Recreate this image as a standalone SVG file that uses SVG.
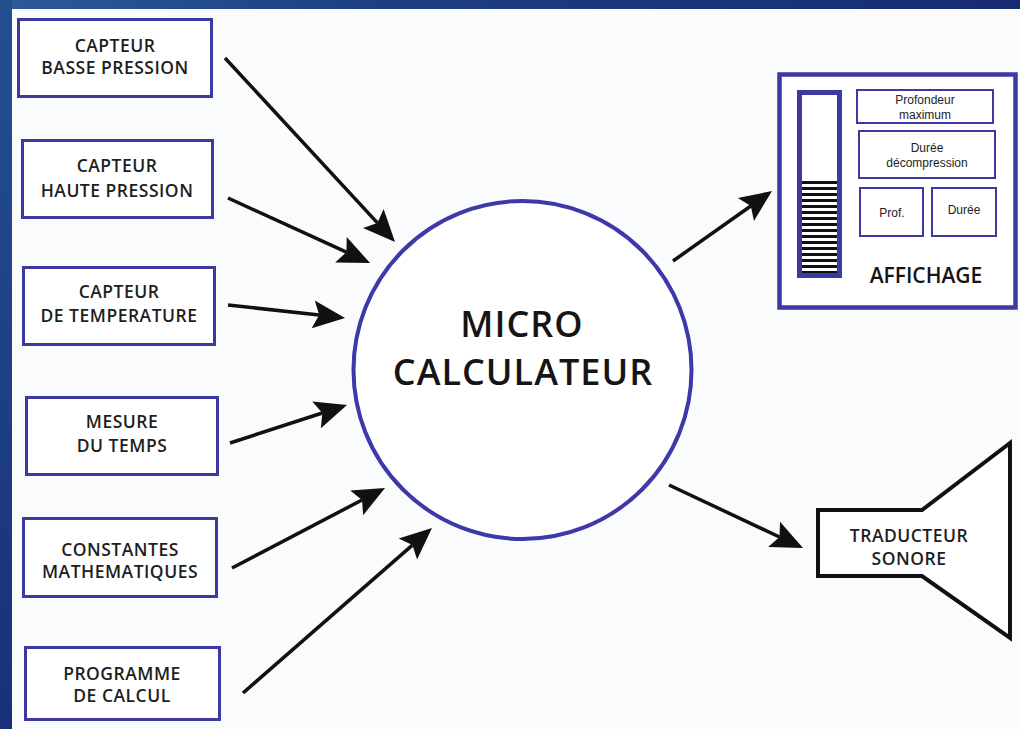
<svg xmlns="http://www.w3.org/2000/svg" width="1020" height="729" viewBox="0 0 1020 729">
<defs>
<linearGradient id="band" x1="0" y1="0" x2="1" y2="0">
<stop offset="0" stop-color="#2a5c96"/>
<stop offset="0.35" stop-color="#1d3f86"/>
<stop offset="1" stop-color="#172b72"/>
</linearGradient>
<linearGradient id="side" x1="0" y1="0" x2="0" y2="1">
<stop offset="0" stop-color="#24508f"/>
<stop offset="1" stop-color="#18307a"/>
</linearGradient>
<pattern id="stripes" x="0" y="181" width="10" height="6" patternUnits="userSpaceOnUse">
<rect x="0" y="0" width="10" height="3" fill="#111"/>
</pattern>
<marker id="ah" markerUnits="userSpaceOnUse" markerWidth="40" markerHeight="40" refX="0" refY="0" viewBox="-10 -20 40 40" orient="auto" overflow="visible">
<path d="M26,0 L-6,-14 L0,0 L-6,14 Z" fill="#111"/>
</marker>
<style>
.box{fill:#fff;stroke:#3d39a3;stroke-width:3}
.lbl{font-family:"Open Sans","Liberation Sans",sans-serif;font-weight:600;font-size:17.5px;letter-spacing:0.5px;fill:#1e1e1e;text-anchor:middle}
.big{font-family:"Open Sans","Liberation Sans",sans-serif;font-weight:600;font-size:36px;letter-spacing:1px;fill:#151515;text-anchor:middle}
.small{font-family:"Liberation Sans","Open Sans",sans-serif;font-weight:400;font-size:12px;fill:#222;text-anchor:middle}
.sub{fill:#fff;stroke:#3d39a3;stroke-width:2}
.arrow{stroke:#111;stroke-width:3.5;fill:none;marker-end:url(#ah)}
</style>
</defs>
<rect x="0" y="0" width="1020" height="729" fill="#fafbfd"/>
<rect x="0" y="0" width="1020" height="9" fill="url(#band)"/>
<rect x="0" y="0" width="12" height="729" fill="url(#side)"/>

<g id="capteur-basse-pression">
<rect class="box" x="18.5" y="19.5" width="193" height="77"/>
<text class="lbl" x="115" y="52">CAPTEUR</text>
<text class="lbl" x="115" y="74">BASSE PRESSION</text>
</g>
<g id="capteur-haute-pression">
<rect class="box" x="22.5" y="140.5" width="190" height="77"/>
<text class="lbl" x="117" y="172">CAPTEUR</text>
<text class="lbl" x="117" y="197">HAUTE PRESSION</text>
</g>
<g id="capteur-temperature">
<rect class="box" x="23.5" y="267.5" width="191" height="77"/>
<text class="lbl" x="119" y="298">CAPTEUR</text>
<text class="lbl" x="119" y="322">DE TEMPERATURE</text>
</g>
<g id="mesure-temps">
<rect class="box" x="26.5" y="397.5" width="191" height="77"/>
<text class="lbl" x="122" y="428">MESURE</text>
<text class="lbl" x="122" y="452">DU TEMPS</text>
</g>
<g id="constantes">
<rect class="box" x="23.5" y="518.5" width="193" height="78"/>
<text class="lbl" x="120" y="556">CONSTANTES</text>
<text class="lbl" x="120" y="578">MATHEMATIQUES</text>
</g>
<g id="programme">
<rect class="box" x="25.5" y="647.5" width="194" height="72"/>
<text class="lbl" x="122" y="680">PROGRAMME</text>
<text class="lbl" x="122" y="702">DE CALCUL</text>
</g>

<g id="micro-calculateur">
<circle cx="522.5" cy="370" r="169" fill="#fff" stroke="#3d39a8" stroke-width="4"/>
<text class="big" x="522" y="337">MICRO</text>
<text class="big" x="523" y="385">CALCULATEUR</text>
</g>

<g id="affichage">
<rect x="779.5" y="74.5" width="236" height="233" fill="#fff" stroke="#3d39a3" stroke-width="4.5"/>
<rect x="799.5" y="92.5" width="40" height="183" fill="#fff" stroke="#3d39a3" stroke-width="5"/>
<rect x="802" y="181" width="35" height="92" fill="url(#stripes)"/>
<rect class="sub" x="857" y="90" width="136" height="33"/>
<text class="small" x="925" y="104">Profondeur</text>
<text class="small" x="925" y="119">maximum</text>
<rect class="sub" x="859" y="131" width="136" height="47"/>
<text class="small" x="927" y="152">Durée</text>
<text class="small" x="927" y="167">décompression</text>
<rect class="sub" x="860" y="188" width="63" height="48"/>
<text class="small" x="892" y="217">Prof.</text>
<rect class="sub" x="932" y="188" width="64" height="48"/>
<text class="small" x="964" y="214">Durée</text>
<text x="926" y="283" font-family="'Open Sans','Liberation Sans',sans-serif" font-weight="600" font-size="21" fill="#151515" text-anchor="middle">AFFICHAGE</text>
</g>

<g id="traducteur-sonore">
<polygon points="818,510 922,510 1010,443 1010,638 922,576 818,576" fill="#fff" stroke="#111" stroke-width="4" stroke-linejoin="miter"/>
<text class="lbl" x="909" y="542">TRADUCTEUR</text>
<text class="lbl" x="909" y="565">SONORE</text>
</g>

<g id="connectors">
<line class="arrow" x1="225" y1="58" x2="377.4" y2="222.9"/>
<line class="arrow" x1="228" y1="198" x2="346.4" y2="252.2"/>
<line class="arrow" x1="228" y1="305" x2="319.2" y2="315.1"/>
<line class="arrow" x1="230" y1="443" x2="322.3" y2="413"/>
<line class="arrow" x1="232" y1="568" x2="362" y2="500"/>
<line class="arrow" x1="243" y1="693" x2="412.4" y2="545.1"/>
<line class="arrow" x1="673" y1="261" x2="750.8" y2="206"/>
<line class="arrow" x1="669" y1="485" x2="779.5" y2="537"/>
</g>
</svg>
